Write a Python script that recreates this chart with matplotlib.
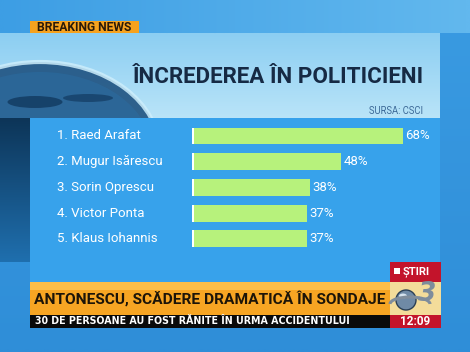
import numpy as np
import matplotlib
matplotlib.use('Agg')
import matplotlib.pyplot as plt
from matplotlib.patches import Rectangle, Ellipse, Circle, Arc

# ─── data ──────────────────────────────────────
names = ['1. Raed Arafat', '2. Mugur Isărescu', '3. Sorin Oprescu',
         '4. Victor Ponta', '5. Klaus Iohannis']
values = [68, 48, 38, 37, 37]
title = 'ÎNCREDEREA ÎN POLITICIENI'
source = 'SURSA: CSCI'
headline = 'ANTONESCU, SCĂDERE DRAMATICĂ ÎN SONDAJE'
ticker = '30 DE PERSOANE AU FOST RĂNITE ÎN URMA ACCIDENTULUI'
clock = '12:09'

NARROW = ['Roboto', 'DejaVu Sans']
W, H = 470, 352

fig = plt.figure(figsize=(W / 100, H / 100), dpi=100)
renderer = fig.canvas.get_renderer()

def fit(t, width_px):
    # shrink/grow a text so that it spans the width seen on the screenshot
    w = t.get_window_extent(renderer).width
    t.set_fontsize(t.get_fontsize() * width_px / w)
    return t

# ─── background (pixel coords) ─────────────────
bg = fig.add_axes([0, 0, 1, 1])
bg.set_xlim(0, W); bg.set_ylim(H, 0); bg.axis('off')

def grad(x0, x1, y0, y1, c0, c1, horiz=False, z=0):
    c0 = np.array(matplotlib.colors.to_rgb(c0)); c1 = np.array(matplotlib.colors.to_rgb(c1))
    t = np.linspace(0, 1, 64)
    img = c0[None, :] * (1 - t[:, None]) + c1[None, :] * t[:, None]
    img = img[None, :, :] if horiz else img[:, None, :]
    bg.imshow(img, extent=(x0, x1, y1, y0), aspect='auto', zorder=z, interpolation='bilinear')

grad(0, W, 0, H, '#3a9be2', '#2f8ed8', z=0)              # overall blue
grad(0, W, 0, 33, '#3d9ee4', '#62b8ee', horiz=True, z=1)  # top band
grad(0, 440, 33, 118, '#8ccef2', '#b9e4f8', z=1)         # title area

# globe in the corner
bg.add_patch(Ellipse((40, 152), 240, 180, facecolor='#174a7a', edgecolor='#cdeefc',
                     lw=3, alpha=0.85, zorder=2))
bg.add_patch(Ellipse((40, 155), 226, 166, facecolor='#2a6fa6', edgecolor='none',
                     alpha=0.45, zorder=2))
bg.add_patch(Ellipse((35, 102), 55, 12, facecolor='#0e3358', edgecolor='none',
                     alpha=0.7, zorder=2))
bg.add_patch(Ellipse((88, 98), 50, 8, facecolor='#0e3358', edgecolor='none',
                     alpha=0.6, zorder=2))
grad(0, 30, 118, 262, '#0d3558', '#1f6fae', z=2.5)       # dark left strip

# bar panel
bg.add_patch(Rectangle((30, 118), 410, 164, facecolor='#37a2eb', edgecolor='none', zorder=3))

# breaking news tag
bg.add_patch(Rectangle((30, 21), 109, 12, facecolor='#f6a21e', edgecolor='none', zorder=3))
fit(bg.text(37, 27.5, 'BREAKING NEWS', fontsize=7, fontweight='bold', color='#2a1a08',
            va='center', ha='left', family=NARROW, zorder=4), 95)

fit(bg.text(278, 77, title, fontsize=16, fontweight='bold', color='#162a44',
            ha='center', va='center', family=NARROW, zorder=4), 292)
fit(bg.text(423, 111, source, fontsize=6, color='#3d6a98', ha='right', va='center',
            family=NARROW, zorder=4), 55)

# bottom banner
bg.add_patch(Rectangle((30, 282), 360, 33, facecolor='#f7a523', edgecolor='none', zorder=3))
bg.add_patch(Rectangle((30, 282), 360, 8, facecolor='#fbbe48', edgecolor='none', zorder=3))
fit(bg.text(34, 299, headline, fontsize=12, fontweight='bold', color='#1c1408',
            ha='left', va='center', family=NARROW, zorder=4), 350)
bg.add_patch(Rectangle((30, 315), 360, 13, facecolor='#0a0a0a', edgecolor='none', zorder=3))
fit(bg.text(35, 321.5, ticker, fontsize=6.5, fontweight='bold', color='white',
            ha='left', va='center', family=['DejaVu Sans'], zorder=4), 317)

# channel box
bg.add_patch(Rectangle((390, 262), 51, 20, facecolor='#c3142b', edgecolor='none', zorder=3))
bg.add_patch(Rectangle((394, 268), 6, 6, facecolor='white', edgecolor='none', zorder=4))
bg.text(403, 271.5, 'ȘTIRI', fontsize=8, fontweight='bold', color='white',
        ha='left', va='center', family=NARROW, zorder=4)
bg.add_patch(Rectangle((390, 282), 51, 33, facecolor='#f3dc9a', edgecolor='none', zorder=3))
bg.add_patch(Circle((406, 300), 10, facecolor='#6f8aa6', edgecolor='#2b3f55', lw=1, zorder=4))
bg.add_patch(Ellipse((403, 296), 8, 5, facecolor='#d5e3ef', edgecolor='none', zorder=4))
bg.add_patch(Arc((410, 304), 40, 14, theta1=180, theta2=360, color='#7f8d9c', lw=2.2, zorder=5))
bg.text(427, 294, '3', fontsize=19, fontweight='bold', style='italic', color='#7d8c9c',
        ha='center', va='center', family=['DejaVu Sans'], zorder=5)
bg.add_patch(Rectangle((390, 315), 51, 13, facecolor='#c3142b', edgecolor='none', zorder=3))
bg.text(415.5, 321.5, clock, fontsize=8.5, fontweight='bold', color='white',
        ha='center', va='center', family=NARROW, zorder=6)

# ─── bars ──────────────────────────────────────
PX = 3.1           # pixels per percent
X0 = 192           # bar start in pixels
ax = fig.add_axes([X0 / W, 1 - 258 / H, (440 - X0) / W, 140 / H])
ax.patch.set_alpha(0)
ypos = np.arange(len(values))
ax.barh(ypos, values, height=0.66, color='#b7f27c', edgecolor='none')
ax.barh(ypos, [0.6] * len(values), height=0.66, color='white', edgecolor='none')
ax.set_xlim(0, 248 / PX)
ax.set_ylim(4.738, -0.699)
ax.axis('off')

for y, n, v in zip(ypos, names, values):
    ax.text((57 - X0) / PX, y, n, fontsize=9.5, color='white', ha='left',
            va='center', family=NARROW, clip_on=False)
    ax.text(v + 0.8, y, f'{v}%', fontsize=9.5, color='white', ha='left', va='center',
            family=NARROW, clip_on=False)

plt.savefig('out.png', dpi=100)
